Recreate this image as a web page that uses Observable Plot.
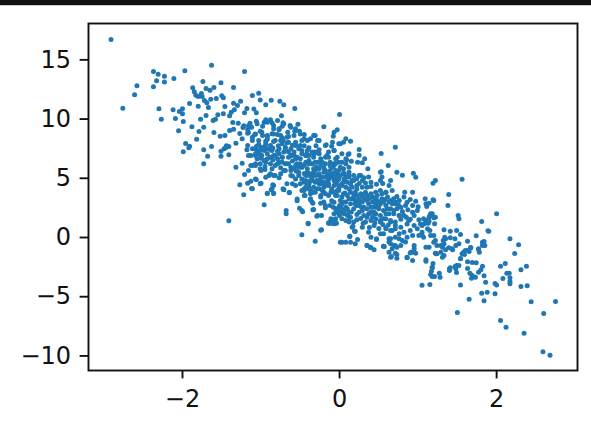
<!DOCTYPE html>
<html>
<head>
<meta charset="utf-8">
<script src="https://cdn.jsdelivr.net/npm/d3@7"></script>
<script src="https://cdn.jsdelivr.net/npm/@observablehq/plot@0.6"></script>
<style>
html,body{margin:0;padding:0;background:#fff;}
#wrap{position:relative;width:591px;height:423px;overflow:hidden;}
#bar{position:absolute;left:0;top:0;width:591px;height:5px;background:#111;border-bottom:1px solid #ccc;}
svg{display:block;}
</style>
</head>
<body>
<div id="wrap"><div id="bar"></div></div>
<script>
const xTicks = [-2, 0, 2];
const yTicks = [-10, -5, 0, 5, 10, 15];
const xDomain = [-3.197, 3.03];
const yDomain = [-11.23, 18.07];
const pointColor = "#1f77b4";

const upperLeft = [[-2.91,16.72],[-2.76,10.92],[-2.61,12.05],[-2.58,12.81],[-2.37,12.73],[-2.33,13.23],[-2.37,14.02],[-2.31,13.79],[-2.23,13.62],[-2.23,13.12],[-2.11,13.43],[-1.97,14.08],[-1.63,14.55],[-1.21,14.02],[-2.30,10.87],[-2.27,9.99],[-2.12,10.78],[-2.04,10.64],[-2.00,10.87],[-2.00,10.45],[-2.09,10.05],[-1.99,9.80],[-2.05,9.01],[-1.88,9.35],[-1.77,9.99],[-1.70,10.30],[-1.80,11.09],[-1.91,11.32],[-1.79,8.95],[-1.73,9.32],[-1.82,8.30],[-1.96,7.94],[-1.91,7.71],[-1.73,7.41],[-1.63,7.69],[-1.87,12.64],[-1.74,13.18],[-1.51,13.07],[-1.60,12.67],[-1.70,12.58],[-1.65,12.44],[-1.35,12.67],[-1.85,12.31],[-1.83,12.02],[-1.76,12.16],[-1.80,11.91],[-1.75,11.91],[-1.72,11.57],[-1.69,11.38],[-1.64,11.68],[-1.57,11.74],[-1.50,11.97],[-1.48,11.80],[-1.67,10.98],[-1.46,11.06],[-1.35,11.34],[-1.26,11.51],[-1.30,11.15],[-1.18,10.90],[-1.48,10.45],[-1.55,10.36],[-1.58,9.99],[-1.61,9.88],[-1.40,10.28],[-1.38,10.58],[-1.34,10.78],[-1.21,10.53],[-1.36,9.71],[-1.29,9.65],[-1.22,9.43],[-1.16,9.43],[-1.60,8.87],[-1.52,8.56],[-1.46,8.61],[-1.40,9.04],[-1.35,9.15],[-1.27,8.78],[-1.16,8.87],[-1.24,8.34],[-1.32,7.96],[-1.44,7.74],[-1.47,7.49]];

const upperMiddle = [[-1.73,6.22],[-1.68,6.87],[-1.99,7.24],[-1.92,7.57],[-1.51,6.87],[-1.41,6.98],[-1.51,7.29],[-1.45,7.58],[-1.41,7.69],[-1.11,11.99],[-1.03,12.19],[-1.01,11.60],[-0.87,11.59],[-0.94,11.21],[-0.76,11.51],[-0.71,11.21],[-0.57,10.90],[-1.09,10.85],[-1.06,10.53],[0.0,10.39],[-0.74,10.28],[-0.20,9.35],[-0.94,9.94],[-0.88,9.94],[-0.79,9.88],[-0.92,9.74],[-0.86,9.69],[-1.06,9.81],[-1.14,9.65],[-1.12,9.32],[-1.23,9.28],[-1.17,9.12],[-0.98,9.40],[-0.72,9.69],[-0.73,9.40],[-0.53,9.57],[-0.62,9.32],[-0.57,8.98],[-0.66,8.89],[-0.84,9.18],[-0.77,9.10],[-1.01,8.98],[-1.08,8.70],[-1.17,8.81],[-1.11,8.47],[-0.98,8.61],[-0.92,8.53],[-0.86,8.76],[-0.79,8.70],[-0.73,8.42],[-0.65,8.53],[-0.51,8.98],[-0.45,8.70],[-0.31,8.61],[-0.37,8.34],[-0.48,8.19],[-0.07,8.89],[-0.03,9.10],[-0.08,8.56],[-0.09,8.05],[-0.17,7.83],[-0.28,8.19],[-0.94,8.13],[-0.84,8.11],[-0.75,8.19],[-0.67,8.0],[-0.56,7.77],[-1.17,7.77],[-1.06,7.69],[-1.0,7.63],[-1.18,7.41],[-1.05,7.35],[-0.96,7.35],[-0.88,7.41],[-0.79,7.29],[-0.69,7.49],[-0.48,7.35],[-0.39,7.58],[-0.26,7.41],[-0.07,7.35],[-1.16,6.93],[-1.07,6.93],[-1.01,6.98],[-0.92,6.65],[-0.82,6.93],[-0.73,6.78],[-0.62,6.93],[-0.54,6.78],[-0.43,6.93],[-0.33,7.01],[-0.16,6.93],[-0.03,6.78],[-1.24,6.28],[-1.32,5.94],[-1.13,6.08],[-1.21,5.32],[-1.07,6.08],[-0.95,6.0],[-1.16,5.66],[-1.0,5.66],[-0.86,5.80],[-0.90,5.24],[-0.84,5.24],[-1.13,4.76],[-1.17,4.59],[-1.06,4.87],[-1.0,4.59],[-1.27,4.45],[-1.12,4.14],[-0.85,4.45],[-0.72,4.11],[-0.77,5.04],[-0.71,5.66],[-0.62,5.94],[-0.54,6.22],[-0.67,6.22],[-0.79,6.22],[-0.48,5.94],[-0.39,6.22],[-0.28,6.36],[-0.18,6.22],[-0.07,6.08],[-0.01,5.66],[-0.09,5.38],[-0.2,5.52],[-0.31,5.66],[-0.41,5.52],[-0.52,5.24],[-0.62,5.24],[-0.67,4.54],[-0.56,4.39],[-0.45,4.67],[-0.35,4.81],[-0.24,4.67],[-0.14,4.96],[-0.03,4.81],[-0.2,4.25],[-0.39,4.25]];

const lowerMiddle = [[-1.41,1.41],[-1.22,3.61],[-0.96,2.76],[-0.92,3.72],[-0.84,3.72],[-0.87,4.03],[-0.71,4.03],[-0.64,3.77],[-0.54,3.10],[-0.68,2.28],[-0.68,2.0],[-0.51,2.47],[-0.47,2.17],[-0.34,2.34],[-0.40,1.16],[-0.48,0.23],[-0.31,-0.31],[-0.24,0.62],[-0.29,1.80],[-0.23,1.86],[-0.12,1.21],[-0.07,1.44],[-0.04,1.21],[0.01,-0.40],[-0.37,3.18],[-0.34,2.90],[-0.24,2.90],[-0.18,2.51],[-0.07,2.98],[-0.01,2.0],[-0.04,2.28],[-0.44,3.55],[-0.48,3.97],[-0.33,3.83],[-0.24,3.55],[-0.14,3.55],[-0.05,3.55],[-0.18,4.54],[-0.41,4.39],[-0.26,4.11],[-0.07,4.39],[-0.01,3.97]];

const centerRight = [[0.71,7.63],[0.53,7.09],[0.25,7.43],[0.25,6.95],[0.32,6.65],[0.29,6.31],[0.23,6.36],[0.15,6.44],[0.09,6.56],[0.11,7.01],[0.14,8.13],[0.08,8.34],[0.01,7.91],[0.62,6.08],[0.36,5.80],[0.73,5.52],[0.80,5.26],[0.94,5.43],[0.97,5.09],[0.53,5.55],[1.22,4.81],[1.19,4.59],[1.56,4.92],[1.39,3.63],[1.38,2.70],[1.51,1.86],[1.52,1.58],[1.81,1.35],[1.89,0.57],[1.74,0.14],[1.63,-0.31],[1.84,-0.34],[1.82,-0.68],[1.77,-1.01],[1.78,-1.24],[1.67,-0.87],[1.63,-1.10],[1.59,-1.44],[1.54,-1.80],[1.33,0.65],[1.41,0.53],[1.49,0.59],[1.54,0.25],[1.35,-0.11],[1.41,-0.03],[1.47,-0.11],[1.52,-0.53],[1.32,-0.25],[1.20,-0.40],[1.48,-0.68],[1.39,-0.87],[1.31,-0.82],[1.24,-0.68],[1.29,-1.24],[1.33,-1.52],[1.10,-0.82],[1.14,-0.82],[1.22,-1.33],[1.31,-1.66],[1.10,-1.88],[0.86,-1.66],[0.91,-1.24],[0.97,-1.33],[0.73,-1.44],[0.63,-1.24],[0.66,-1.60],[0.56,-0.73],[0.35,-0.68],[0.39,-0.82],[0.44,-1.04],[0.23,-0.17],[0.13,0.08],[0.03,-0.40],[0.08,-0.40],[0.14,-0.40],[0.2,-0.53],[0.40,0.03],[0.47,-0.11],[0.20,0.51],[0.17,0.95],[0.12,1.44],[-0.11,1.44],[-0.07,1.16],[-0.14,1.21],[-0.05,1.58]];

const lowerRight = [[2.0,2.0],[1.90,0.53],[2.17,-0.11],[2.28,-0.62],[2.23,-1.35],[1.82,-0.40],[1.83,-0.53],[1.85,-0.68],[1.67,-0.84],[1.65,-1.18],[1.60,-1.10],[1.56,-1.38],[1.58,-1.24],[1.54,-1.77],[1.63,-2.05],[1.69,-2.11],[1.74,-2.14],[1.82,-2.42],[1.63,-2.62],[1.66,-3.01],[1.69,-3.21],[1.73,-3.35],[1.68,-3.44],[1.77,-2.93],[1.80,-2.73],[1.84,-3.23],[1.86,-3.77],[2.05,-2.42],[2.11,-2.20],[2.38,-2.42],[2.31,-2.73],[2.13,-3.01],[2.16,-3.01],[2.08,-3.46],[2.17,-3.40],[2.17,-3.72],[2.17,-3.91],[1.98,-3.89],[2.0,-4.0],[2.31,-4.14],[2.39,-4.08],[2.44,-5.43],[2.75,-5.41],[2.60,-6.42],[2.05,-7.01],[2.12,-7.58],[2.35,-8.08],[2.59,-9.65],[2.68,-9.94],[1.50,-6.33],[1.65,-5.21],[1.84,-5.35],[1.81,-4.70],[1.88,-4.62],[1.98,-4.75],[1.54,-4.0],[1.15,-3.97],[1.05,-4.03],[1.10,-2.0],[1.19,-2.20],[1.18,-2.51],[1.17,-2.85],[1.16,-3.13],[1.18,-3.29],[1.21,-3.29],[1.27,-3.01],[1.28,-3.35],[1.40,-2.64],[1.40,-2.79],[1.47,-2.45],[1.49,-2.36],[1.52,-2.36],[1.49,-2.96],[1.48,-2.64],[1.23,-1.38],[1.35,-1.04],[1.44,-1.04],[1.18,2.0],[1.22,1.71],[1.15,1.86],[1.10,1.44],[1.08,1.16],[1.13,1.21],[1.21,1.16],[1.05,1.01],[1.15,0.59],[1.16,0.17],[1.05,0.23],[1.10,2.85],[1.14,2.90],[1.20,3.13],[1.11,2.62],[1.09,3.27],[1.19,3.18]];

const denseRight = [[0.83,3.83],[0.93,3.83],[0.82,3.41],[0.73,3.46],[0.65,3.13],[0.71,2.98],[0.84,2.70],[0.78,2.56],[0.97,3.07],[0.86,2.98],[0.93,2.70],[0.59,3.83],[0.52,2.98],[0.61,2.42],[0.69,2.28],[0.76,1.86],[0.82,1.86],[0.93,2.14],[0.99,2.28],[1.16,2.0],[1.20,1.66],[1.14,1.72],[1.07,1.58],[1.01,1.49],[0.95,1.86],[0.88,1.44],[1.03,1.15],[1.14,1.38],[0.56,1.58],[0.52,1.30],[0.65,1.30],[0.71,1.01],[0.78,0.87],[0.86,1.15],[0.95,1.01],[0.59,0.82],[0.67,0.59],[0.76,0.31],[0.82,0.45],[0.90,0.59],[0.99,0.73],[1.05,0.45],[1.12,0.73],[1.20,0.17],[1.22,-0.25],[1.07,0.03],[1.01,0.17],[0.93,0.17],[0.86,0.03],[0.80,-0.25],[0.71,0.03],[0.63,-0.11],[0.56,0.31],[0.65,-0.53],[0.57,-0.76],[0.71,-0.68],[0.78,-0.68],[0.84,-0.39],[0.95,-0.68],[0.95,-0.96],[0.90,-1.30],[0.95,-1.24],[0.65,-1.66],[0.71,-1.32],[0.73,-1.75],[0.86,-1.72],[0.93,-1.94],[1.18,-2.56],[1.24,-1.38],[1.29,-0.68],[1.34,0.03],[1.33,-0.53],[1.43,-0.96],[1.41,-2.56],[1.77,-0.96]];

const denseCenter = [[-0.41,5.38],[-0.33,5.52],[-0.26,5.24],[-0.43,4.82],[-0.37,4.82],[-0.29,4.82],[-0.20,4.67],[-0.14,4.39],[-0.33,4.25],[-0.39,4.11],[-0.45,3.97],[-0.45,3.55],[-0.37,3.27],[-0.35,2.99],[-0.24,3.41],[-0.20,2.99],[-0.18,2.70],[-0.33,2.37],[-0.48,2.28],[-0.28,1.86],[-0.40,1.21],[-0.23,0.65],[-0.11,1.58],[-0.07,1.49],[-0.14,1.24],[-0.09,1.21],[-0.05,1.21],[0.03,2.42],[0.08,2.56],[0.01,2.14],[0.06,2.0],[-0.03,2.14],[-0.05,2.42],[0.0,2.70],[0.12,2.14],[0.14,1.72],[0.18,1.30],[0.16,0.87],[0.19,0.54],[0.03,1.58],[0.10,1.86],[0.08,1.44],[0.12,1.30],[0.13,0.11],[0.35,-0.67],[0.40,-0.87],[0.47,-0.17],[0.56,-0.73],[0.65,-0.11],[0.63,-0.39],[0.69,-0.67],[0.67,-0.96],[0.76,-0.11],[0.73,-0.82],[0.52,0.31],[0.59,0.73],[0.65,0.59],[0.71,0.73],[0.44,1.01],[0.37,0.45],[0.29,0.87],[0.33,1.30],[0.40,1.44],[0.46,1.58],[0.52,1.86],[0.59,1.58],[0.65,1.44],[0.71,1.30],[0.76,1.86],[0.63,2.0],[0.56,2.28],[0.50,2.42],[0.44,2.14],[0.37,2.0],[0.31,1.86],[0.25,2.14],[0.18,2.42],[0.20,2.85],[0.14,2.85],[0.08,2.99],[0.01,3.13],[-0.03,3.55],[0.03,3.41],[0.12,3.27],[0.18,3.41],[0.25,3.27],[0.29,2.99],[0.35,3.13],[0.42,2.99],[0.48,3.13],[0.54,3.27],[0.61,3.41],[0.69,3.27],[0.76,3.13],[0.67,2.85],[0.59,2.70],[0.52,2.85],[0.46,2.56],[0.40,2.56],[0.31,2.56],[0.25,2.70],[0.73,2.42],[0.14,3.83],[0.20,3.83],[0.27,3.69],[0.33,3.83],[0.40,3.69],[0.46,3.83],[0.52,3.97],[0.59,3.83],[0.67,3.97],[0.16,4.25],[0.22,4.39],[0.29,4.25],[0.35,4.25],[0.40,4.67],[0.52,4.82],[0.54,5.10],[0.63,4.39],[0.65,4.82],[0.52,5.52],[0.27,5.24],[0.31,5.04],[0.22,4.96],[0.16,4.82],[0.10,4.67],[0.03,4.53],[-0.03,4.82],[-0.09,5.10],[-0.03,5.24],[0.06,5.38],[0.12,5.52],[0.18,5.24],[-0.01,4.11],[-0.07,3.83]];

const denseLeft = [[-1.05,9.6],[-0.96,9.74],[-0.84,9.46],[-0.77,9.18],[-0.71,9.6],[-0.63,9.46],[-0.56,9.18],[-0.50,8.75],[-0.45,8.33],[-0.58,8.61],[-0.67,8.47],[-0.75,8.61],[-0.84,8.75],[-0.92,8.61],[-0.99,8.89],[-1.07,8.75],[-1.11,8.19],[-1.03,8.19],[-0.94,7.91],[-0.88,7.77],[-0.82,8.19],[-0.73,7.91],[-0.65,8.05],[-0.56,8.05],[-0.50,7.77],[-0.41,8.19],[-0.33,8.61],[-0.26,8.19],[-0.18,7.77],[-0.14,7.21],[-0.07,7.35],[-0.01,7.91],[0.05,8.05],[0.12,7.07],[0.03,7.07],[-0.05,6.64],[-0.12,6.36],[-0.18,6.78],[-0.26,7.07],[-0.35,7.21],[-0.43,6.92],[-0.39,6.50],[-0.31,6.36],[-0.24,6.08],[-0.18,5.66],[-0.09,5.94],[-0.03,5.52],[0.05,5.80],[0.12,5.94],[0.03,6.36],[-0.50,6.22],[-0.56,6.64],[-0.62,6.92],[-0.71,7.21],[-0.77,7.07],[-0.84,6.92],[-0.92,7.07],[-1.01,7.35],[-1.07,7.49],[-1.13,6.92],[-1.05,6.64],[-0.96,6.50],[-0.88,6.22],[-0.82,6.08],[-0.73,6.36],[-0.65,6.22],[-0.58,5.80],[-0.52,5.52],[-0.43,5.23],[-0.35,5.23],[-0.26,5.38],[-0.18,5.09],[-0.09,5.23],[-0.01,4.95],[0.08,5.09],[0.12,5.23],[0.03,4.39],[-0.05,4.53],[-0.14,4.53],[-0.22,4.67],[-0.31,4.67],[-0.39,4.53],[-0.45,4.11],[-0.37,3.97],[-0.29,4.11],[-0.20,3.83],[-0.11,3.83],[-0.03,3.97],[0.05,3.69],[0.12,4.11],[-0.69,5.66],[-0.75,5.38],[-0.82,5.23],[-0.88,5.38],[-0.94,5.09],[-1.01,5.80],[-1.07,6.22],[-1.11,6.08],[-1.07,4.95],[-1.01,4.53],[-1.11,4.11],[-0.84,4.39],[-0.86,4.11],[-0.92,3.74],[-0.84,3.74],[-0.71,4.05],[-0.64,3.83],[-0.56,4.95],[-0.60,4.53],[-0.50,4.53],[-0.54,3.26]];

const coreLower = [[0.18,3.69],[0.22,3.55],[0.29,3.55],[0.35,3.55],[0.42,3.41],[0.48,3.55],[0.54,3.69],[0.16,3.27],[0.20,3.13],[0.31,3.27],[0.37,2.85],[0.46,2.85],[0.42,2.56],[0.50,2.70],[0.56,2.99],[0.63,2.99],[0.71,2.85],[0.65,2.42],[0.69,2.0],[0.59,2.0],[0.52,1.44],[0.46,2.0],[0.40,2.14],[0.35,2.42],[0.29,2.28],[0.22,2.70],[0.01,2.56],[0.06,2.28],[-0.03,2.42],[0.03,2.85],[0.10,2.42],[-0.07,2.0],[-0.11,5.10],[-0.07,5.38],[-0.01,4.96],[0.06,4.96],[0.12,5.10],[0.18,4.82],[0.25,5.24],[0.14,4.53],[0.08,4.25],[0.01,5.24],[0.29,4.82],[0.37,5.10],[-0.37,5.38],[-0.39,4.53],[-0.18,4.39],[-0.24,4.53],[-0.22,3.97],[-0.31,3.83],[-0.43,4.25],[-0.37,3.69],[-0.18,3.69]];

const coreUpper = [[-1.11,7.49],[-1.05,7.21],[-0.99,6.92],[-1.07,7.07],[-0.99,7.49],[-0.92,7.49],[-0.86,7.35],[-0.77,7.49],[-0.69,7.63],[-0.62,7.49],[-0.58,7.21],[-0.52,7.49],[-0.48,7.07],[-0.41,7.35],[-0.39,6.92],[-0.33,6.78],[-0.31,7.21],[-0.24,6.64],[-0.22,6.36],[-0.14,6.78],[-0.07,6.22],[-0.01,6.36],[0.01,5.94],[0.08,6.22],[-0.05,5.66],[-0.12,5.66],[-0.26,5.80],[-0.33,5.80],[-0.41,5.80],[-0.48,5.94],[-0.43,6.36],[-0.35,6.22],[-0.56,6.08],[-0.65,6.78],[-0.73,6.78],[-0.79,6.64],[-0.88,6.78],[-0.94,6.36],[-1.01,6.22],[-0.69,6.22],[-0.77,6.36],[-0.31,5.23],[-0.22,5.09],[-0.14,4.95],[-0.07,4.81],[0.05,4.67],[-0.26,4.53],[-0.01,4.39],[-0.39,5.23],[-0.48,4.95],[-0.52,5.94]];

const coreExtra = [[0.35,1.7],[0.42,1.75],[0.27,1.6],[0.22,1.5],[0.3,1.2],[0.45,1.25],[0.55,1.1],[0.62,1.05],[0.38,0.85],[0.5,0.75],[0.78,1.55],[0.85,1.7],[0.9,1.55],[0.8,2.2],[0.87,2.35],[0.75,2.75],[0.9,3.2],[1.0,2.6],[0.58,3.2],[0.45,3.3],[0.38,3.3],[0.25,3.0],[0.1,3.55],[0.05,3.0],[-0.1,3.1],[-0.12,2.7],[-0.08,2.55],[0.0,1.85],[0.22,1.95],[0.28,2.55],[0.15,2.15],[0.07,3.75],[0.25,4.55],[0.4,4.3],[0.47,4.5],[0.55,4.55],[0.33,4.6],[0.22,4.1],[-0.1,4.1],[-0.15,4.7],[-0.25,4.85],[-0.35,5.05],[-0.45,5.4],[-0.55,5.6],[-0.62,5.65],[-0.45,6.1],[-0.3,5.95],[-0.2,5.9],[-0.12,6.05],[-0.15,5.35],[-0.05,5.05],[0.05,5.45],[-0.28,7.15],[-0.42,7.05],[-0.5,6.65],[-0.65,7.25],[-0.58,6.95],[-0.78,7.75],[-0.85,7.55],[-0.95,7.7],[-1.03,7.85],[-0.92,8.3],[-0.72,8.2],[-0.6,7.8],[-0.45,7.75],[-0.3,7.75],[-0.1,7.7],[-0.05,6.25],[0.08,6.65],[-0.6,5.2],[-0.75,5.9],[-0.95,5.75],[-1.0,6.7],[-0.85,6.55],[-0.6,6.45]];

const points = [...upperLeft, ...upperMiddle, ...lowerMiddle, ...centerRight, ...lowerRight, ...denseRight, ...denseCenter, ...denseLeft, ...coreLower, ...coreUpper, ...coreExtra];

const chart = Plot.plot({
  width: 591,
  height: 423,
  marginLeft: 88,
  marginRight: 14,
  marginTop: 23,
  marginBottom: 53,
  style: {fontFamily: "DejaVu Sans", background: "transparent", overflow: "visible"},
  x: {domain: xDomain, axis: null},
  y: {domain: yDomain, axis: null},
  marks: [
    Plot.dot(points, {x: d => d[0], y: d => d[1], r: 2.5, fill: pointColor, stroke: "none"}),
    Plot.frame({stroke: "#111", strokeWidth: 1.9, strokeOpacity: 1}),
    Plot.axisX({ticks: xTicks, tickSize: 8.4, tickPadding: 11, fontSize: 24, stroke: "#111", strokeWidth: 1.9, fill: "#111", anchor: "bottom", label: null, tickFormat: d => String(d).replace("-", "\u2212")}),
    Plot.axisY({ticks: yTicks, tickSize: 8.4, tickPadding: 9, fontSize: 24, stroke: "#111", strokeWidth: 1.9, fill: "#111", anchor: "left", label: null, tickFormat: d => String(d).replace("-", "\u2212")})
  ]
});
document.getElementById("wrap").prepend(chart);
</script>
</body>
</html>
